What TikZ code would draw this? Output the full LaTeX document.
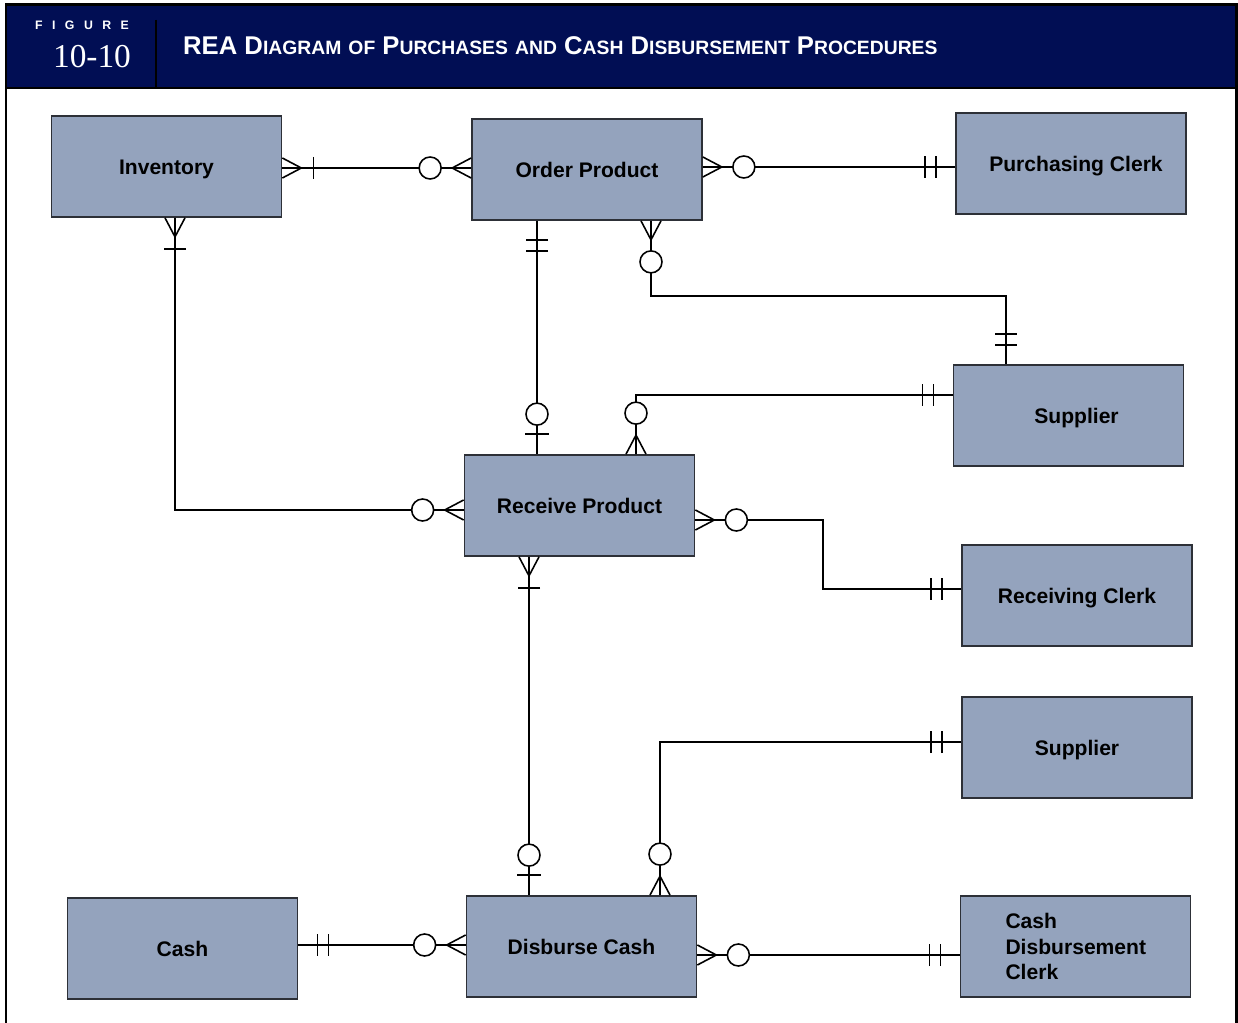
\documentclass[tikz,border=0pt]{standalone}
\usepackage{fontspec}
\setmainfont{Liberation Sans}
\newfontfamily\reaserif{Liberation Serif}
\usetikzlibrary{calc}
\definecolor{ReaNavy}{RGB}{1,14,84}
\definecolor{ReaSlate}{RGB}{148,163,189}
\definecolor{ReaEdge}{RGB}{45,48,55}
\newcommand{\reasc}[1]{{\fontsize{11}{11}\selectfont\MakeUppercase{#1}}}
\tikzset{
  rea/box/.style={
    draw=ReaEdge,
    line width=1pt,
    fill=ReaSlate,
    align=center,
    text=black,
    minimum width=4.6cm,
    minimum height=2.02cm,
    inner sep=0pt,
    font=\bfseries\fontsize{12}{14.5}\selectfont
  },
  rea/oneline/.style={rea/box, text height=8.6pt, text depth=0pt},
  rea/line/.style={line width=0.9pt, draw=black},
  rea/figlabel/.style={font=\bfseries\fontsize{7}{7}\selectfont, text=white},
  rea/number/.style={font=\reaserif\fontsize{19}{19}\selectfont, text=white},
  rea/title/.style={font=\bfseries\fontsize{14.6}{14.6}\selectfont, text=white},
  zeromany/.pic={
    \draw[rea/line] (0,-10) -- (19,0) -- (0,10) (0,0) -- (19,0);
    \draw[rea/line,fill=white] (41,0) circle[radius=0.22cm];
  },
  onemany/.pic={
    \draw[rea/line] (0,-10) -- (19,0) -- (0,10) (0,0) -- (19,0);
    \draw[rea/line] (31,-11) -- (31,11);
  },
  oneonly/.pic={
    \draw[rea/line] (19,-11) -- (19,11) (30,-11) -- (30,11);
  },
  zeroone/.pic={
    \draw[rea/line] (20,-12) -- (20,12);
    \draw[rea/line,fill=white] (40,0) circle[radius=0.22cm];
  }
}

\begin{document}
\begin{tikzpicture}[x=0.02cm,y=-0.02cm]
  \useasboundingbox (0,0) rectangle (1238,1023);
  % header band
  \fill[ReaNavy] (6,5) rectangle (1236,88);
  \draw[line width=1.2pt] (6,1023) |- (1236.5,4.5) -- (1236.5,1023);
  \draw[line width=1pt] (6,88) -- (1236.5,88);
  \draw[line width=1.4pt] (156,20) -- (156,88);
  \node[rea/figlabel] (figlabel) at (82,25)
    {F\kern5.4pt I\kern5.4pt G\kern5.4pt U\kern5.4pt R\kern5.4pt E};
  \node[rea/number] (fignum) at (92,57) {10-10};
  \node[rea/title,anchor=west] (figtitle) at (177,46)
    {REA D\reasc{iagram} \reasc{of} P\reasc{urchases} \reasc{and} C\reasc{ash}
     D\reasc{isbursement} P\reasc{rocedures}};

  % resources, events, agents
  \node[rea/oneline] (inv) at (166.5,166.5) {Inventory};
  \node[rea/oneline] (ordp) at (587,169.5) {Order Product};
  \node[rea/oneline] (pclk) at (1071,163.5) {\hspace{0.2cm}Purchasing Clerk};
  \node[rea/oneline] (supa) at (1068.5,415.5) {\hspace{0.32cm}Supplier};
  \node[rea/oneline] (recp) at (579.5,505.5) {Receive Product};
  \node[rea/oneline] (rclk) at (1077,595.5) {Receiving Clerk};
  \node[rea/oneline] (supb) at (1077,747.5) {Supplier};
  \node[rea/oneline] (cash) at (182.5,948.5) {Cash};
  \node[rea/oneline] (disb) at (581.5,946.5) {Disburse Cash};
  \node[rea/box,align=left,text width=2.8cm] (dclk) at (1075.5,946.5)
    {Cash\\Disbursement\\Clerk};

  % inventory -- order product
  \coordinate (iv-e) at ($(inv.east)+(0,1.5)$);
  \coordinate (op-w) at (iv-e -| ordp.west);
  \draw[rea/line] (iv-e) -- (op-w);
  \pic at (iv-e) {onemany};
  \pic[rotate=180] at (op-w) {zeromany};

  % order product -- purchasing clerk
  \coordinate (op-e) at ($(ordp.east)+(0,-2.5)$);
  \coordinate (pc-w) at (op-e -| pclk.west);
  \draw[rea/line] (op-e) -- (pc-w);
  \pic at (op-e) {zeromany};
  \pic[rotate=180] at (pc-w) {oneonly};

  % inventory -- receive product
  \coordinate (iv-s) at ($(inv.south)+(8.5,0)$);
  \coordinate (rp-w) at ($(recp.west)+(0,4.5)$);
  \draw[rea/line] (iv-s) |- (rp-w);
  \pic[rotate=-90] at (iv-s) {onemany};
  \pic[rotate=180] at (rp-w) {zeromany};

  % order product -- receive product
  \coordinate (op-s1) at ($(ordp.south)+(-50,0)$);
  \coordinate (rp-n1) at (op-s1 |- recp.north);
  \draw[rea/line] (op-s1) -- (rp-n1);
  \pic[rotate=-90] at (op-s1) {oneonly};
  \pic[rotate=90] at (rp-n1) {zeroone};

  % order product -- supplier
  \coordinate (op-s2) at ($(ordp.south)+(64,0)$);
  \coordinate (sa-n) at ($(supa.north)+(-62.5,0)$);
  \draw[rea/line] (op-s2) -- ++(0,75) -| (sa-n);
  \pic[rotate=-90] at (op-s2) {zeromany};
  \pic[rotate=90] at (sa-n) {oneonly};

  % receive product -- supplier
  \coordinate (rp-n2) at ($(recp.north)+(56.5,0)$);
  \coordinate (sa-w) at ($(supa.west)+(0,-20.5)$);
  \draw[rea/line] (rp-n2) |- (sa-w);
  \pic[rotate=90] at (rp-n2) {zeromany};
  \pic[rotate=180] at (sa-w) {oneonly};

  % receive product -- receiving clerk
  \coordinate (rp-e) at ($(recp.east)+(0,14.5)$);
  \coordinate (rc-w) at ($(rclk.west)+(0,-6.5)$);
  \draw[rea/line] (rp-e) -| ($(rp-e)!0.48!(rc-w)$) |- (rc-w);
  \pic at (rp-e) {zeromany};
  \pic[rotate=180] at (rc-w) {oneonly};

  % receive product -- disburse cash
  \coordinate (rp-s) at ($(recp.south)+(-50.5,0)$);
  \coordinate (dc-n1) at (rp-s |- disb.north);
  \draw[rea/line] (rp-s) -- (dc-n1);
  \pic[rotate=-90] at (rp-s) {onemany};
  \pic[rotate=90] at (dc-n1) {zeroone};

  % disburse cash -- supplier
  \coordinate (dc-n2) at ($(disb.north)+(78.5,0)$);
  \coordinate (sb-w) at ($(supb.west)+(0,-5.5)$);
  \draw[rea/line] (dc-n2) |- (sb-w);
  \pic[rotate=90] at (dc-n2) {zeromany};
  \pic[rotate=180] at (sb-w) {oneonly};

  % cash -- disburse cash
  \coordinate (ca-e) at ($(cash.east)+(0,-3.5)$);
  \coordinate (dc-w) at (ca-e -| disb.west);
  \draw[rea/line] (ca-e) -- (dc-w);
  \pic at (ca-e) {oneonly};
  \pic[rotate=180] at (dc-w) {zeromany};

  % disburse cash -- cash disbursement clerk
  \coordinate (dc-e) at ($(disb.east)+(0,8.5)$);
  \coordinate (dk-w) at (dc-e -| dclk.west);
  \draw[rea/line] (dc-e) -- (dk-w);
  \pic at (dc-e) {zeromany};
  \pic[rotate=180] at (dk-w) {oneonly};
\end{tikzpicture}
\end{document}
